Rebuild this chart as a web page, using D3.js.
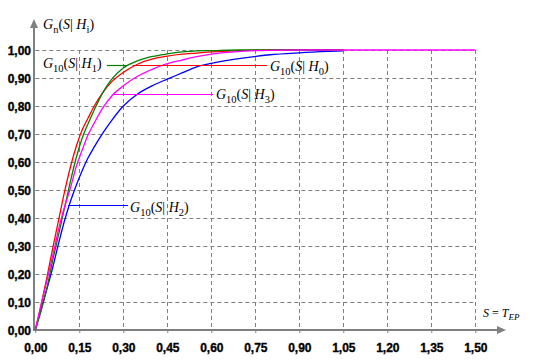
<!DOCTYPE html>
<html><head><meta charset="utf-8">
<script src="https://cdn.jsdelivr.net/npm/d3@7"></script>
<style>body{margin:0;background:#fff}svg{display:block}</style>
</head><body><svg id="c" width="540" height="360"></svg>
<script>
// ---- data ----
const sValues = [0, 0.02, 0.04, 0.06, 0.08, 0.10, 0.12, 0.14, 0.16, 0.18, 0.20, 0.23, 0.26, 0.30, 0.35, 0.40, 0.45, 0.50, 0.55, 0.60, 0.70, 0.80, 0.90, 1.00, 1.05, 1.50];
const gH0 = [0, 0.091, 0.19, 0.295, 0.395, 0.495, 0.583, 0.657, 0.715, 0.757, 0.798, 0.848, 0.886, 0.920, 0.950, 0.968, 0.978, 0.985, 0.989, 0.993, 0.998, 1.0, 1.0, 1.0, 1.0, null];
const gH1 = [0, 0.069, 0.152, 0.252, 0.343, 0.438, 0.532, 0.617, 0.686, 0.737, 0.784, 0.848, 0.895, 0.936, 0.962, 0.977, 0.986, 0.993, 0.997, 0.998, 1.0, 1.0, 1.0, 1.0, 1.0, null];
const gH2 = [0, 0.074, 0.148, 0.226, 0.312, 0.392, 0.460, 0.518, 0.570, 0.615, 0.652, 0.703, 0.748, 0.800, 0.844, 0.873, 0.896, 0.918, 0.940, 0.952, 0.970, 0.983, 0.990, 0.995, 0.997, null];
const gH3 = [0, 0.091, 0.178, 0.268, 0.362, 0.440, 0.508, 0.585, 0.643, 0.697, 0.737, 0.793, 0.835, 0.872, 0.907, 0.932, 0.951, 0.964, 0.976, 0.985, 0.995, 0.999, 1.0, 1.0, 1.0, 1.0];
const seriesNames = ["H2", "H0", "H1", "H3"];
const seriesColors = ["#0000ff", "#ff0000", "#008000", "#ff00ff"];
const xTickValues = [0, 0.15, 0.30, 0.45, 0.60, 0.75, 0.90, 1.05, 1.20, 1.35, 1.50];
const xTickLabels = ["0,00","0,15","0,30","0,45","0,60","0,75","0,90","1,05","1,20","1,35","1,50"];
const yTickValues = [0, 0.1, 0.2, 0.3, 0.4, 0.5, 0.6, 0.7, 0.8, 0.9, 1.0];
const yTickLabels = ["0,00","0,10","0,20","0,30","0,40","0,50","0,60","0,70","0,80","0,90","1,00"];
// annotations
const annSeries = ["H1", "H0", "H3", "H2"];
const annSub = ["1", "0", "3", "2"];
const annLevel = [0.946, 0.946, 0.843, 0.446];
const annLineFrom = [0.244, 0.332, 0.268, 0.112];
const annLineTo = [0.312, 0.79, 0.606, 0.316];
const annTextS = [0.026, 0.800, 0.616, 0.323];

const seriesData = {H0: gH0, H1: gH1, H2: gH2, H3: gH3};

// ---- chart ----
const svg = d3.select("#c");
const x = d3.scaleLinear().domain([0, 1.5]).range([35.3, 475.3]);
const y = d3.scaleLinear().domain([0, 1]).range([330, 50]);
const gray = "#808080";

// grid
const grid = svg.append("g").attr("stroke", gray).attr("stroke-dasharray", "4,3").attr("stroke-width", 1);
grid.selectAll("line.h").data(yTickValues.slice(1)).join("line")
  .attr("x1", x(0)).attr("x2", x(1.5))
  .attr("y1", d => Math.round(y(d)) + 0.5).attr("y2", d => Math.round(y(d)) + 0.5);
grid.selectAll("line.v").data(xTickValues.slice(1)).join("line")
  .attr("x1", d => Math.round(x(d)) + 0.5).attr("x2", d => Math.round(x(d)) + 0.5)
  .attr("y1", y(1)).attr("y2", y(0));

const tickFont = "Liberation Sans, Arial, sans-serif";
// x axis
const xAxis = svg.append("g").attr("transform", `translate(0,${y(0)})`)
  .call(d3.axisBottom(x).tickValues(xTickValues).tickSize(3).tickFormat((d, i) => xTickLabels[i]));
xAxis.select(".domain").remove();
xAxis.selectAll(".tick line").attr("stroke", gray);
xAxis.selectAll("text").attr("y", 22).attr("dy", 0)
  .attr("font-family", tickFont).attr("font-weight", "bold").attr("font-size", 12)
  .attr("fill", "#000").attr("stroke", "#000").attr("stroke-width", 0.35);

// y axis
const yAxis = svg.append("g").attr("transform", `translate(34,0)`)
  .call(d3.axisLeft(y).tickValues(yTickValues).tickSize(0).tickPadding(3).tickFormat((d, i) => yTickLabels[i]));
yAxis.select(".domain").remove();
yAxis.selectAll("text").attr("dy", "0.36em")
  .attr("font-family", tickFont).attr("font-weight", "bold").attr("font-size", 12)
  .attr("fill", "#000").attr("stroke", "#000").attr("stroke-width", 0.35);

// axis lines with arrows
svg.append("line").attr("x1", 34).attr("x2", 34).attr("y1", 331).attr("y2", 26).attr("stroke", gray).attr("stroke-width", 2);
svg.append("path").attr("d", "M34,19 L30,28 L38,28 Z").attr("fill", gray);
svg.append("line").attr("x1", 33).attr("x2", 500).attr("y1", 330).attr("y2", 330).attr("stroke", gray).attr("stroke-width", 2);
svg.append("path").attr("d", "M506,330 L497,326 L497,334 Z").attr("fill", gray);

// curves
const line = d3.line()
  .defined(d => d[1] !== null)
  .x(d => x(d[0])).y(d => y(d[1]))
  .curve(d3.curveMonotoneX);
seriesNames.forEach((name, i) => {
  const pts = sValues.map((s, j) => [s, seriesData[name][j]]);
  svg.append("path").datum(pts).attr("d", line)
    .attr("fill", "none").attr("stroke", seriesColors[i]).attr("stroke-width", 1.3);
});

// annotations
const serif = "Liberation Serif, Times New Roman, serif";
function mathLabel(g, xPos, yPos, sub1, sym, sub2, size) {
  const t = g.append("text").attr("x", xPos).attr("y", yPos)
    .attr("font-family", serif).attr("font-size", size).attr("fill", "#000");
  t.append("tspan").attr("font-style", "italic").text("G");
  t.append("tspan").attr("font-size", size * 0.75).attr("dy", 4).text(sub1);
  t.append("tspan").attr("dy", -4).text("(");
  t.append("tspan").attr("font-style", "italic").text("S");
  t.append("tspan").text("| ");
  t.append("tspan").attr("font-style", "italic").text(sym);
  t.append("tspan").attr("font-size", size * 0.75).attr("dy", 4).text(sub2);
  t.append("tspan").attr("dy", -4).text(")");
  return t;
}
const textDy = [2, 5, 4, 6];
annSeries.forEach((name, i) => {
  const col = seriesColors[seriesNames.indexOf(name)];
  const yy = Math.round(y(annLevel[i])) + 0.5;
  svg.append("line").attr("x1", x(annLineFrom[i])).attr("x2", x(annLineTo[i]))
    .attr("y1", yy).attr("y2", yy).attr("stroke", col).attr("stroke-width", 1.2);
  mathLabel(svg, x(annTextS[i]), yy + textDy[i], "10", "H", annSub[i], 14);
});

// axis titles
mathLabel(svg, 43, 29, "n", "H", "i", 14);
const xt = svg.append("text").attr("x", 483).attr("y", 317)
  .attr("font-family", serif).attr("font-size", 12).attr("fill", "#000");
xt.append("tspan").attr("font-style", "italic").text("S");
xt.append("tspan").text(" = ");
xt.append("tspan").attr("font-style", "italic").text("T");
xt.append("tspan").attr("font-style", "italic").attr("font-size", 9).attr("dy", 3).text("EP");
</script></body></html>
